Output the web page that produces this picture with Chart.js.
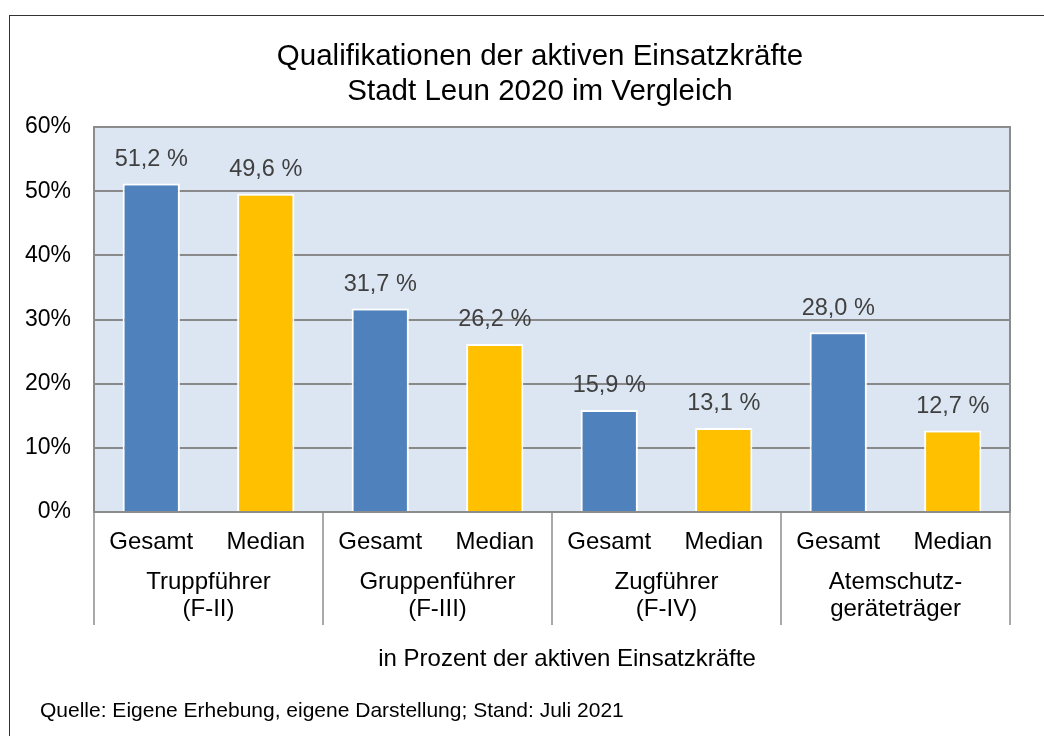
<!DOCTYPE html>
<html lang="de">
<head>
<meta charset="utf-8">
<script src="https://cdn.jsdelivr.net/npm/chart.js@4.4.1/dist/chart.umd.min.js"></script>
<style>
  html,body{margin:0;padding:0;background:#fff;overflow:hidden;}
  #wrap{position:relative;width:1044px;height:736px;}
  #frame{position:absolute;left:9px;top:15px;width:1100px;height:800px;border:1.5px solid #333;box-sizing:border-box;}
  canvas{position:absolute;left:0;top:0;}
</style>
</head>
<body>
<div id="wrap">
  <div id="frame"></div>
  <canvas id="c" width="1044" height="736"></canvas>
</div>
<script>
'use strict';

/* ── DATA ────────────────────────────────────────────────── */
const TITLE   = ['Qualifikationen der aktiven Einsatzkräfte', 'Stadt Leun 2020 im Vergleich'];
const GROUPS  = [['Truppführer','(F-II)'], ['Gruppenführer','(F-III)'], ['Zugführer','(F-IV)'], ['Atemschutz-','geräteträger']];
const SERIES  = ['Gesamt', 'Median'];
const VALUES  = [51.2, 49.6, 31.7, 26.2, 15.9, 13.1, 28.0, 12.7];
const COLORS  = ['#4f81bd', '#ffc000'];
const Y_TICKS = [0, 10, 20, 30, 40, 50, 60];
const AXIS_TITLE = 'in Prozent der aktiven Einsatzkräfte';
const SOURCE  = 'Quelle: Eigene Erhebung, eigene Darstellung; Stand: Juli 2021';

/* ── HELPERS ─────────────────────────────────────────────── */
const FONT = "'Liberation Sans', Arial, sans-serif";
const labels = GROUPS.flatMap(() => SERIES);
const fmt = v => v.toFixed(1).replace('.', ',') + ' %';

/* ── PLUGINS ─────────────────────────────────────────────── */
const plotBg = {
  id: 'plotBg',
  beforeDraw(chart) {
    const { ctx, chartArea: a } = chart;
    ctx.save();
    ctx.fillStyle = '#dce6f2';
    ctx.fillRect(a.left, a.top, a.right - a.left, a.bottom - a.top);
    ctx.restore();
  }
};

const decor = {
  id: 'decor',
  afterDraw(chart) {
    const { ctx, chartArea: a } = chart;
    const xs = chart.scales.x, ys = chart.scales.y;
    ctx.save();

    // title
    ctx.fillStyle = '#000';
    ctx.font = `29.5px ${FONT}`;
    ctx.textAlign = 'center';
    ctx.textBaseline = 'middle';
    ctx.fillText(TITLE[0], 540, 57);
    ctx.fillText(TITLE[1], 540, 92);

    // plot border top / right
    ctx.strokeStyle = '#8c8c8c';
    ctx.lineWidth = 2;
    ctx.beginPath();
    ctx.moveTo(a.left, a.top); ctx.lineTo(a.right, a.top); ctx.lineTo(a.right, a.bottom);
    ctx.stroke();

    // group separators + group labels
    const n = SERIES.length;
    const edges = [a.left];
    for (let g = 1; g < GROUPS.length; g++)
      edges.push((xs.getPixelForValue(g * n - 1) + xs.getPixelForValue(g * n)) / 2);
    edges.push(a.right);
    ctx.lineWidth = 1.5;
    edges.forEach(x => {
      ctx.beginPath(); ctx.moveTo(x, a.bottom); ctx.lineTo(x, 625); ctx.stroke();
    });
    ctx.fillStyle = '#000';
    ctx.font = `24px ${FONT}`;
    GROUPS.forEach((g, i) => {
      const cx = (edges[i] + edges[i + 1]) / 2;
      ctx.fillText(g[0], cx, 582);
      ctx.fillText(g[1], cx, 609);
    });

    // axis title + source
    ctx.fillText(AXIS_TITLE, 567, 659);
    ctx.textAlign = 'left';
    ctx.font = `21px ${FONT}`;
    ctx.fillText(SOURCE, 40, 711);

    // data labels
    ctx.textAlign = 'center';
    ctx.fillStyle = '#404040';
    ctx.font = `23.5px ${FONT}`;
    VALUES.forEach((v, i) => {
      ctx.fillText(fmt(v), xs.getPixelForValue(i), ys.getPixelForValue(v) - 24);
    });
    ctx.restore();
  }
};

/* ── CHART ───────────────────────────────────────────────── */
new Chart(document.getElementById('c'), {
  type: 'bar',
  data: {
    labels,
    datasets: [{
      data: VALUES,
      backgroundColor: VALUES.map((_, i) => COLORS[i % SERIES.length]),
      borderColor: '#fff',
      borderWidth: { top: 2, left: 2, right: 2, bottom: 0 },
      categoryPercentage: 1,
      barPercentage: 0.5
    }]
  },
  options: {
    responsive: false,
    animation: false,
    layout: { padding: { top: 127, right: 34, bottom: 0, left: 0 } },
    plugins: { legend: { display: false }, tooltip: { enabled: false }, title: { display: false } },
    scales: {
      x: {
        grid: { display: false, drawTicks: false },
        border: { color: '#8c8c8c', width: 2 },
        ticks: { color: '#000', font: { family: FONT, size: 24 }, padding: 16, maxRotation: 0 },
        afterFit: s => { s.height = 224; }
      },
      y: {
        min: 0, max: 60,
        afterBuildTicks: s => { s.ticks = Y_TICKS.map(v => ({ value: v })); },
        grid: { color: '#898989', lineWidth: 2, drawTicks: false },
        border: { color: '#8c8c8c', width: 2 },
        ticks: { color: '#000', font: { family: FONT, size: 23 }, padding: 23, callback: v => v + '%' },
        afterFit: s => { s.width = 94; }
      }
    }
  },
  plugins: [plotBg, decor]
});
</script>
</body>
</html>
